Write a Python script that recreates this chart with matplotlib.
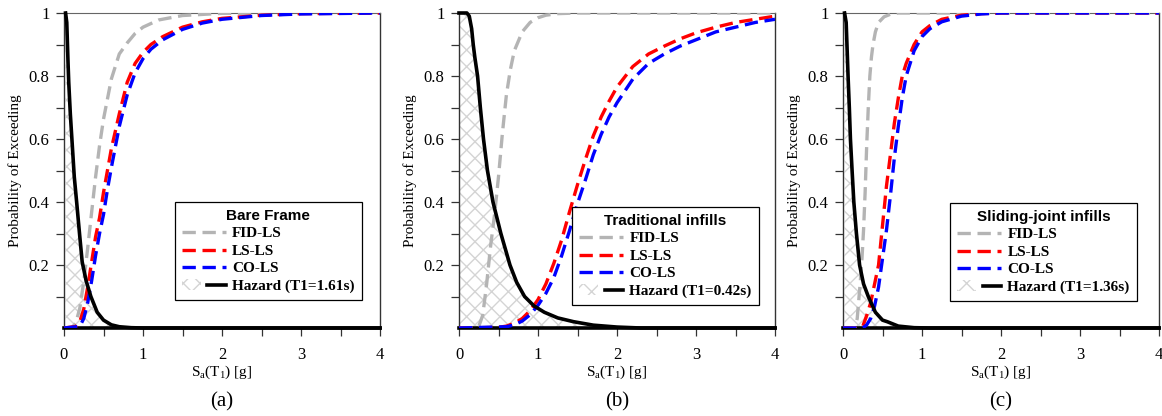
import matplotlib
matplotlib.use("Agg")
import matplotlib.pyplot as plt
from matplotlib.patches import Patch
from matplotlib.lines import Line2D
from matplotlib.legend_handler import HandlerTuple

plt.rcParams['font.family'] = ['Liberation Serif', 'DejaVu Serif']
plt.rcParams['mathtext.fontset'] = 'custom'
plt.rcParams['mathtext.rm'] = 'Liberation Serif'
plt.rcParams['mathtext.it'] = 'Liberation Serif:italic'
plt.rcParams['hatch.linewidth'] = 1.0
plt.rcParams['hatch.color'] = '#d4d4d4'

# ---- (a) Bare Frame ----
bare_fid_x = [0, 0.1, 0.15, 0.2, 0.25, 0.3, 0.35, 0.4, 0.45, 0.5, 0.6, 0.7, 0.8, 0.9, 1.0, 1.2, 1.5, 2.0, 4.0]
bare_fid_y = [0, 0.001, 0.016, 0.063, 0.147, 0.254, 0.368, 0.48, 0.579, 0.663, 0.791, 0.87, 0.905, 0.935, 0.955, 0.978, 0.992, 0.999, 1.0]
bare_ls_x = [0, 0.15, 0.2, 0.25, 0.3, 0.35, 0.4, 0.45, 0.5, 0.55, 0.6, 0.7, 0.8, 0.9, 1.0, 1.1, 1.25, 1.5, 1.75, 2.0, 2.5, 3.0, 4.0]
bare_ls_y = [0, 0.005, 0.02, 0.06, 0.13, 0.21, 0.29, 0.35, 0.43, 0.5, 0.57, 0.68, 0.78, 0.84, 0.875, 0.9, 0.925, 0.955, 0.972, 0.983, 0.993, 0.998, 1.0]
bare_co_x = [0, 0.2, 0.25, 0.3, 0.35, 0.4, 0.45, 0.5, 0.55, 0.6, 0.7, 0.8, 0.9, 1.0, 1.1, 1.25, 1.5, 1.75, 2.0, 2.5, 3.0, 4.0]
bare_co_y = [0, 0.005, 0.03, 0.08, 0.15, 0.23, 0.3, 0.36, 0.44, 0.51, 0.64, 0.74, 0.81, 0.855, 0.885, 0.915, 0.948, 0.968, 0.98, 0.992, 0.997, 1.0]
bare_haz_x = [0.02, 0.035, 0.05, 0.06, 0.08, 0.1, 0.13, 0.16, 0.2, 0.23, 0.28, 0.34, 0.42, 0.5, 0.6, 0.7, 0.85, 1.0, 4.0]
bare_haz_y = [1.0, 0.97, 0.85, 0.78, 0.68, 0.6, 0.48, 0.4, 0.29, 0.21, 0.15, 0.1, 0.05, 0.025, 0.01, 0.004, 0.001, 0, 0]

# ---- (b) Traditional infills ----
trad_fid_x = [0, 0.2, 0.25, 0.3, 0.35, 0.4, 0.45, 0.5, 0.55, 0.6, 0.65, 0.7, 0.8, 0.9, 1.0, 1.1, 1.25, 1.5, 4.0]
trad_fid_y = [0, 0, 0.005, 0.04, 0.14, 0.26, 0.36, 0.48, 0.62, 0.74, 0.82, 0.88, 0.94, 0.97, 0.985, 0.993, 0.998, 1.0, 1.0]
trad_ls_x = [0, 0.5, 0.6, 0.7, 0.8, 0.9, 1.0, 1.1, 1.2, 1.3, 1.4, 1.5, 1.6, 1.7, 1.8, 1.9, 2.0, 2.2, 2.4, 2.6, 2.8, 3.0, 3.25, 3.5, 3.75, 4.0]
trad_ls_y = [0, 0.002, 0.006, 0.015, 0.03, 0.055, 0.09, 0.14, 0.205, 0.28, 0.37, 0.455, 0.535, 0.61, 0.67, 0.72, 0.765, 0.83, 0.87, 0.895, 0.918, 0.937, 0.955, 0.97, 0.98, 0.99]
trad_co_x = [0, 0.6, 0.7, 0.8, 0.9, 1.0, 1.1, 1.2, 1.3, 1.4, 1.5, 1.6, 1.7, 1.8, 1.9, 2.0, 2.2, 2.4, 2.6, 2.8, 3.0, 3.25, 3.5, 3.75, 4.0]
trad_co_y = [0, 0.004, 0.01, 0.022, 0.042, 0.072, 0.11, 0.16, 0.23, 0.31, 0.395, 0.47, 0.55, 0.615, 0.67, 0.715, 0.79, 0.84, 0.87, 0.895, 0.915, 0.94, 0.955, 0.97, 0.98]
trad_haz_x = [0, 0.1, 0.13, 0.16, 0.18, 0.2, 0.235, 0.27, 0.31, 0.36, 0.43, 0.53, 0.645, 0.73, 0.83, 0.95, 1.08, 1.25, 1.45, 1.7, 2.0, 2.3, 4.0]
trad_haz_y = [1.0, 1.0, 0.99, 0.95, 0.9, 0.86, 0.8, 0.7, 0.6, 0.5, 0.4, 0.3, 0.2, 0.145, 0.1, 0.07, 0.05, 0.032, 0.02, 0.009, 0.003, 0, 0]

# ---- (c) Sliding-joint infills ----
slid_fid_x = [0, 0.15, 0.18, 0.2, 0.22, 0.24, 0.26, 0.28, 0.3, 0.32, 0.34, 0.36, 0.38, 0.41, 0.45, 0.52, 0.6, 0.7, 4.0]
slid_fid_y = [0, 0, 0.03, 0.09, 0.15, 0.22, 0.31, 0.43, 0.58, 0.7, 0.8, 0.86, 0.9, 0.94, 0.97, 0.988, 0.996, 1.0, 1.0]
slid_ls_x = [0, 0.2, 0.25, 0.3, 0.35, 0.4, 0.45, 0.5, 0.55, 0.6, 0.65, 0.7, 0.75, 0.8, 0.9, 1.0, 1.1, 1.25, 1.5, 1.75, 2.0, 4.0]
slid_ls_y = [0, 0, 0.005, 0.04, 0.08, 0.14, 0.2, 0.325, 0.45, 0.55, 0.65, 0.73, 0.8, 0.84, 0.9, 0.94, 0.96, 0.98, 0.993, 0.998, 1.0, 1.0]
slid_co_x = [0, 0.25, 0.3, 0.35, 0.4, 0.45, 0.5, 0.55, 0.6, 0.65, 0.7, 0.75, 0.8, 0.9, 1.0, 1.1, 1.25, 1.5, 1.75, 2.0, 4.0]
slid_co_y = [0, 0, 0.01, 0.03, 0.07, 0.13, 0.22, 0.31, 0.42, 0.54, 0.64, 0.73, 0.8, 0.88, 0.925, 0.95, 0.972, 0.99, 0.997, 1.0, 1.0]
slid_haz_x = [0.02, 0.04, 0.05, 0.064, 0.08, 0.094, 0.115, 0.137, 0.17, 0.21, 0.26, 0.32, 0.41, 0.5, 0.56, 0.7, 0.9, 1.1, 4.0]
slid_haz_y = [1.0, 0.97, 0.9, 0.8, 0.7, 0.6, 0.5, 0.4, 0.3, 0.2, 0.14, 0.1, 0.05, 0.025, 0.02, 0.006, 0.001, 0, 0]

titles = ['Bare Frame', 'Traditional infills', 'Sliding-joint infills']
hazard_labels = ['Hazard (T1=1.61s)', 'Hazard (T1=0.42s)', 'Hazard (T1=1.36s)']
captions = ['(a)', '(b)', '(c)']
ls_labels = ['FID-LS', 'LS-LS', 'CO-LS']

panels = [
    (bare_fid_x, bare_fid_y, bare_ls_x, bare_ls_y, bare_co_x, bare_co_y, bare_haz_x, bare_haz_y),
    (trad_fid_x, trad_fid_y, trad_ls_x, trad_ls_y, trad_co_x, trad_co_y, trad_haz_x, trad_haz_y),
    (slid_fid_x, slid_fid_y, slid_ls_x, slid_ls_y, slid_co_x, slid_co_y, slid_haz_x, slid_haz_y),
]

lefts = [64 / 1162, 459 / 1162, 843 / 1162]
legend_anchor = [(0.351, 0.40), (0.358, 0.384), (0.339, 0.397)]
colors = ['#b4b4b4', '#ff0000', '#0000ff']
dash = (0, (4, 2))

fig = plt.figure(figsize=(11.62, 4.16), dpi=100)

for i, p in enumerate(panels):
    ax = fig.add_axes([lefts[i], 1 - 328 / 416, 316 / 1162, 315 / 416])
    fx, fy, lx, ly, cx, cy, hx, hy = p

    ax.fill_between(hx, 0, hy, facecolor='white', edgecolor='#d4d4d4', hatch='xx', linewidth=0, zorder=1)
    ax.plot(fx, fy, color=colors[0], lw=2.4, ls=dash, zorder=3)
    ax.plot(lx, ly, color=colors[1], lw=2.4, ls=dash, zorder=3)
    ax.plot(cx, cy, color=colors[2], lw=2.4, ls=dash, zorder=3)
    ax.plot(hx, hy, color='black', lw=2.6, zorder=4, clip_on=False)

    ax.set_xlim(0, 4)
    ax.set_ylim(0, 1)
    ax.set_xticks([0, 1, 2, 3, 4])
    ax.set_xticks([0.5, 1.5, 2.5, 3.5], minor=True)
    ax.set_yticks([0.2, 0.4, 0.6, 0.8, 1.0])
    ax.set_yticklabels(['0.2', '0.4', '0.6', '0.8', '1'])
    ax.set_yticks([0.1, 0.3, 0.5, 0.7, 0.9], minor=True)
    ax.tick_params(which='both', direction='out', length=5.5, width=0.9, color='#333333')
    ax.tick_params(axis='x', which='both', pad=8, labelsize=12)
    ax.tick_params(axis='y', which='both', pad=5, labelsize=12)

    ax.spines['bottom'].set_linewidth(2.6)
    ax.spines['bottom'].set_color('black')
    ax.spines['left'].set_linewidth(1.0)
    ax.spines['left'].set_color('#333333')
    ax.spines['right'].set_linewidth(1.0)
    ax.spines['right'].set_color('#333333')
    ax.spines['top'].set_linewidth(0.8)
    ax.spines['top'].set_color('#666666')

    ax.set_ylabel('Probability of Exceeding', fontsize=11, labelpad=5)
    ax.set_xlabel(r'S$_\mathregular{a}$(T$_\mathregular{1}$) [g]', fontsize=11, labelpad=1)
    ax.text(0.5, -0.235, captions[i], transform=ax.transAxes, ha='center', va='center', fontsize=15)

    handles = [
        Line2D([], [], color=colors[0], lw=2.4, ls=dash),
        Line2D([], [], color=colors[1], lw=2.4, ls=dash),
        Line2D([], [], color=colors[2], lw=2.4, ls=dash),
        (Patch(facecolor='white', edgecolor='#d4d4d4', hatch='xx', linewidth=0),
         Line2D([], [], color='black', lw=2.6)),
    ]
    leg = ax.legend(handles, ls_labels + [hazard_labels[i]],
                    handler_map={tuple: HandlerTuple(ndivide=None)},
                    loc='upper left', bbox_to_anchor=legend_anchor[i], borderaxespad=0,
                    title=titles[i], fancybox=False, framealpha=1,
                    edgecolor='black', handlelength=2.9, labelspacing=0.25,
                    borderpad=0.45, handletextpad=0.4,
                    prop={'family': 'Liberation Serif', 'weight': 'bold', 'size': 11},
                    title_fontproperties={'family': 'Liberation Sans', 'weight': 'bold', 'size': 11})
    leg.get_frame().set_linewidth(0.9)

fig.savefig('out.png', dpi=100)
